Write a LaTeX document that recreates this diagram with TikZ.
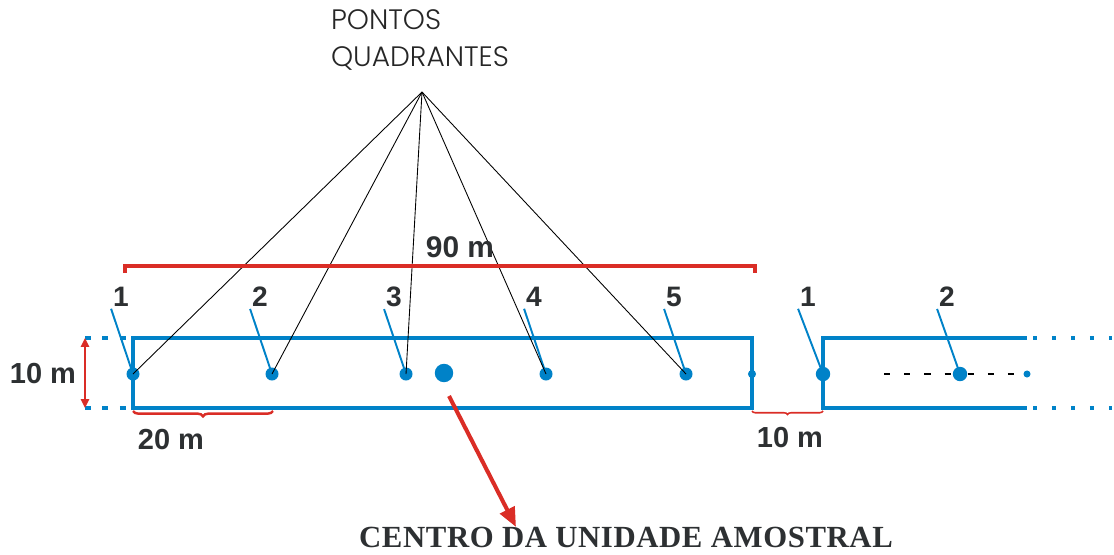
\documentclass[tikz,border=0pt]{standalone}
\usepackage{fontspec}
\setmainfont{Liberation Serif}
\newfontfamily\labelfont{Liberation Sans}
\newfontfamily\thinfont{Poppins Light}
\usetikzlibrary{arrows.meta,decorations.pathreplacing}
\definecolor{plotblue}{RGB}{0,130,200}
\definecolor{markred}{RGB}{218,45,38}
\definecolor{labelgray}{RGB}{45,48,50}
\tikzset{
  plotline/.style={draw=plotblue,line width=2pt},
  quadpt/.style={circle,fill=plotblue,inner sep=0pt,minimum size=7.4pt},
  num/.style={font=\labelfont\bfseries\fontsize{16}{18}\selectfont,text=labelgray,inner sep=1pt},
  measuretxt/.style={font=\labelfont\bfseries\fontsize{16.5}{20}\selectfont,text=labelgray,inner sep=1pt},
  leader/.style={draw=plotblue,line width=1.1pt},
  pointer/.style={draw=black,line width=0.5pt},
  measure/.style={draw=markred,line width=1.4pt}
}
\begin{document}
\begin{tikzpicture}[x=0.02cm,y=-0.02cm]
  \useasboundingbox (0,0) rectangle (1114,554);

  % first sample unit
  \draw[plotline] (133,338) rectangle (752,408);
  \draw[plotline,dash pattern=on 3.4pt off 6.5pt] (85,338) -- (129,338);
  \draw[plotline,dash pattern=on 3.4pt off 6.5pt] (85,408) -- (129,408);

  % quadrant points
  \foreach \x/\n in {133/1,272/2,406/3,546/4,686/5}{
    \node[quadpt] (p\n) at (\x,374) {};
    \node[num] (n\n) at (\x-12,297) {\n};
  }
  \node[quadpt,minimum size=10.5pt] (centro) at (444,373) {};
  \node[quadpt,minimum size=4.6pt] (edge) at (752,374) {};

  \foreach \n in {1,...,5}
    \draw[leader] (n\n.south west) -- (p\n.center);

  % pointer lines
  \node[font=\thinfont\fontsize{16}{21.5}\selectfont,align=left,text=black!85] (title) at (420,40) {PONTOS\\QUADRANTES};
  \coordinate (apex) at (422,92);
  \foreach \n in {1,...,5}
    \draw[pointer] (apex) -- (p\n.center);

  % second sample unit
  \draw[plotline] (1027,338) -- (823,338) -- (823,408) -- (1027,408);
  \draw[plotline,dash pattern=on 2.3pt off 8.5pt] (1033,338) -- (1112,338);
  \draw[plotline,dash pattern=on 2.3pt off 8.5pt] (1033,408) -- (1112,408);
  \node[quadpt,minimum size=8.2pt] (q1) at (823,374) {};
  \node[quadpt,minimum size=8.2pt] (q2) at (960,374) {};
  \node[quadpt,minimum size=4pt] (qend) at (1027,374) {};
  \node[num] (m1) at (808,297) {1};
  \node[num] (m2) at (947,297) {2};
  \draw[leader] (m1.south west) -- (q1.center);
  \draw[leader] (m2.south west) -- (q2.center);
  \coordinate (dstart) at (884,374);
  \draw[black,line width=0.9pt,dash pattern=on 3.5pt off 8pt] (dstart) -- (q2);
  \draw[black,line width=0.9pt,dash pattern=on 3.5pt off 8pt] (q2) -- (qend);

  % measures
  \coordinate (len a) at (125,273);
  \coordinate (len b) at (755,273);
  \draw[markred,line width=2.4pt] (len a) -- ++(0,-7) -| (len b);
  \node[measuretxt,font=\labelfont\bfseries\fontsize{17}{20}\selectfont] (len) at (460,247) {90 m};

  \coordinate (wid a) at (85,338);
  \coordinate (wid b) at (85,408);
  \draw[markred,line width=1.3pt,{Triangle[length=5pt,width=4.5pt]}-{Triangle[length=5pt,width=4.5pt]}] (wid a) -- (wid b);
  \node[measuretxt] (wid) at (43,374) {10 m};

  \coordinate (sp a) at (133,411);
  \coordinate (sp b) at (273,411);
  \draw[measure,decorate,decoration={brace,mirror,amplitude=3pt}] (sp a) -- (sp b);
  \node[measuretxt] (sp) at (171,440) {20 m};

  \coordinate (gap a) at (752,411);
  \coordinate (gap b) at (823,411);
  \draw[measure,line width=0.9pt,decorate,decoration={brace,mirror,amplitude=2pt}] (gap a) -- (gap b);
  \node[measuretxt] (gap) at (790,438) {10 m};

  % centre of the sample unit
  \node[font=\bfseries\fontsize{17.5}{20}\selectfont\addfontfeatures{LetterSpace=2},text=labelgray] (centrotxt) at (626,537) {CENTRO DA UNIDADE AMOSTRAL};
  \coordinate (arr a) at (449,396);
  \coordinate (arr b) at (516,527);
  \draw[markred,line width=2.3pt,-{Triangle[length=11pt,width=9pt]}] (arr a) -- (arr b);
\end{tikzpicture}
\end{document}
